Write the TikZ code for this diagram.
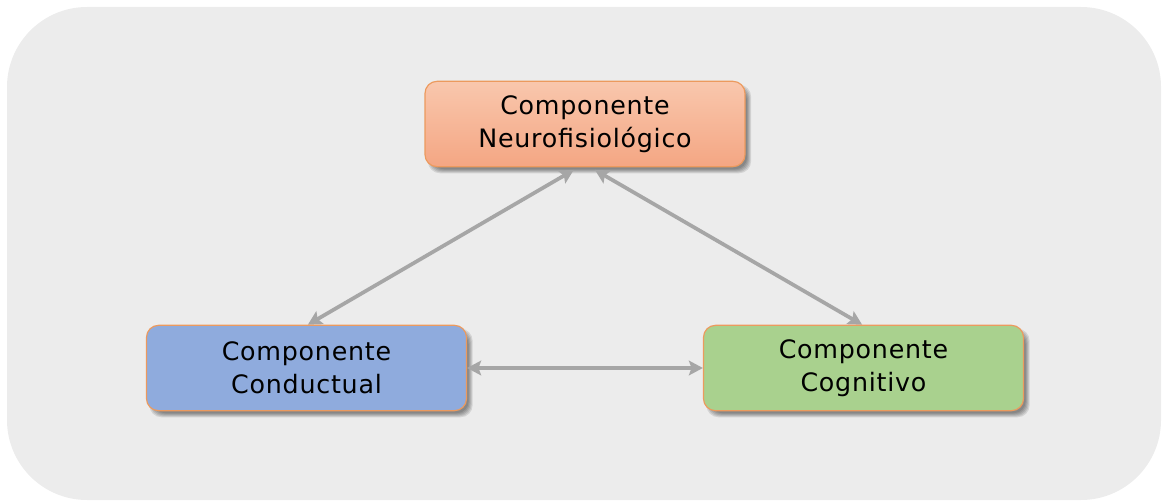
\documentclass[tikz,border=0pt]{standalone}
\usepackage{fontspec}
\setmainfont[LetterSpace=3]{DejaVu Sans}
\usepackage{tikz}
\usetikzlibrary{arrows.meta}
\pgfdeclarelayer{background}
\pgfdeclarelayer{foreground}
\pgfsetlayers{background,main,foreground}
\definecolor{panelgray}{HTML}{ECECEC}
\definecolor{compborder}{HTML}{EC9A5E}
\definecolor{linkgray}{HTML}{A6A6A6}
\definecolor{neurotop}{HTML}{F9C7AD}
\definecolor{neurobot}{HTML}{F4A683}
\definecolor{condfill}{HTML}{8FABDD}
\definecolor{cognfill}{HTML}{A9D18E}

\begin{document}
\begin{tikzpicture}[x=0.75pt,y=-0.75pt,
  comp/.style={draw=compborder, line width=0.9pt, rounded corners=9pt,
    minimum width=240pt, minimum height=64pt, align=center,
    font=\fontsize{19}{24.75}\selectfont},
  link/.style={draw=linkgray, line width=2.8pt,
    {Stealth[length=10.5pt,width=11pt,inset=2pt]}-{Stealth[length=10.5pt,width=11pt,inset=2pt]}}]
\useasboundingbox (0,0) rectangle (1162,502);
\begin{pgfonlayer}{background}
\fill[panelgray, rounded corners=60pt] (7,7) rectangle (1161,500);
\end{pgfonlayer}
\begin{pgfonlayer}{foreground}
\node[comp, top color=neurotop, bottom color=neurobot] (neuro) at (585,124) {Componente\\Neurofisiológico};
\node[comp, fill=condfill] (cond) at (306.5,368) {Componente\\Conductual};
\node[comp, fill=cognfill] (cogn) at (863.5,368) {Componente\\Cognitivo};
\end{pgfonlayer}
% soft shadows
\foreach \n in {neuro,cond,cogn}
  \foreach \k in {-1,0,1,2,3}
    \fill[black, opacity=0.1, rounded corners=9pt]
      ([shift={(4.5+\k,5-\k)}]\n.south west) rectangle ([shift={(4.5-\k,5+\k)}]\n.north east);
\draw[link, shorten <=4pt] ([xshift=-5pt]neuro.south) -- ([xshift=1pt]cond.north);
\draw[link, shorten <=4pt] ([xshift=4pt]neuro.south) -- ([xshift=-1pt]cogn.north);
\draw[link] (cond.east) -- (cogn.west);
\end{tikzpicture}
\end{document}
